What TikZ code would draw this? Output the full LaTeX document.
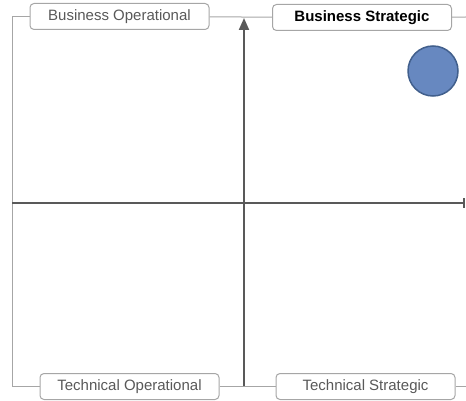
\documentclass[tikz,border=0pt]{standalone}
\usepackage{fontspec}
\setmainfont{Liberation Sans}
\usetikzlibrary{arrows.meta}

\definecolor{framegray}{RGB}{166,166,166}
\definecolor{axisgray}{RGB}{89,89,89}
\definecolor{labelgray}{RGB}{89,89,89}
\definecolor{dotfill}{RGB}{103,136,192}
\definecolor{dotline}{RGB}{65,95,140}

\begin{document}
\begin{tikzpicture}[x=1pt, y=-1pt,
    frame/.style={draw=framegray, line width=1pt},
    axis/.style={draw=axisgray, line width=2pt},
    quadrant/.style={draw=framegray, line width=1pt, fill=white, rounded corners=4pt,
        minimum width=179pt, minimum height=26pt, inner sep=0pt,
        text=labelgray, font=\fontsize{15}{18}\selectfont}]
    \useasboundingbox (0,0) rectangle (466,401);

    % Quadrant labels
    \node[quadrant] (bo) at (119.5,16.5) {Business Operational};
    \node[quadrant, text=black, font=\fontsize{15}{18}\selectfont\bfseries] (bs) at (362,17.5) {Business Strategic};
    \node[quadrant] (to) at (129.5,386.5) {Technical Operational};
    \node[quadrant] (ts) at (365.5,386.5) {Technical Strategic};

    % Frame
    \coordinate (bl) at (12,386.5);
    \coordinate (tr) at (466,17);
    \coordinate (br) at (466,386.5);
    \draw[frame] (bo) -| (bl) -- (to);
    \draw[frame] (bo) -- (bs);
    \draw[frame] (bs) -- (tr);
    \draw[frame] (to) -- (ts);
    \draw[frame] (ts) -- (br);

    % Axes
    \coordinate (ybot) at (244,386);
    \coordinate (ytop) at (244,18);
    \coordinate (xleft) at (12,203);
    \coordinate (xright) at (465,203);
    \draw[axis, -{Triangle[length=12pt, width=10pt]}] (ybot) -- (ytop);
    \draw[axis, -{Bar[width=10pt]}] (xleft) -- (xright);

    % Position marker
    \node[circle, draw=dotline, fill=dotfill, line width=1.5pt, minimum size=50pt, inner sep=0pt] (dot) at (433,71) {};
\end{tikzpicture}
\end{document}
